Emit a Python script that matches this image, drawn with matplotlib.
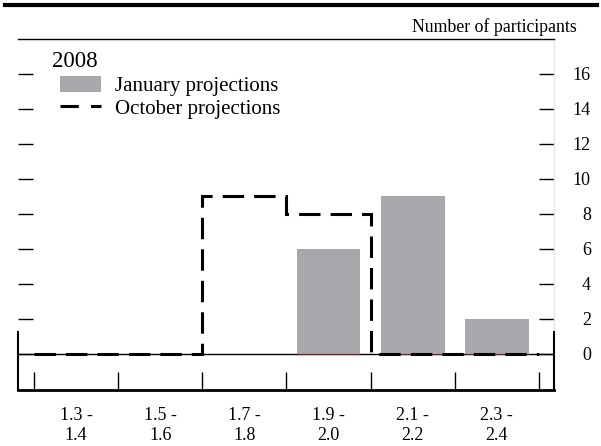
import matplotlib.pyplot as plt
import numpy as np
from matplotlib.lines import Line2D
from matplotlib.patches import Patch

plt.rcParams['font.family'] = ['Liberation Serif', 'DejaVu Serif']

# bins of the projection histogram
bin_labels = ['1.3 -\n1.4', '1.5 -\n1.6', '1.7 -\n1.8', '1.9 -\n2.0', '2.1 -\n2.2', '2.3 -\n2.4']
january = [0, 0, 0, 6, 9, 2]
october = [0, 0, 9, 8, 0, 0]
y_ticks = [0, 2, 4, 6, 8, 10, 12, 14, 16]

x = np.arange(len(bin_labels))
edges = np.arange(len(bin_labels) + 1) - 0.5

fig = plt.figure(figsize=(6.01, 4.46), dpi=100)
ax = fig.add_axes([18 / 601, 1 - 390 / 446, (554 - 18) / 601, (390 - 39) / 446])

bar_w = 0.76
ax.bar(x, january, width=bar_w, color='#a7a8ab', zorder=2)
# thin dark red baseline under the filled bars
for xi, v in zip(x, january):
    if v > 0:
        ax.hlines(0, xi - bar_w / 2, xi + bar_w / 2, color='#6e2020', lw=0.8, zorder=3)

ax.axhline(0, color='black', lw=1, zorder=1)
ax.stairs(october, edges, baseline=None, color='black', lw=2.2,
          linestyle=(0, (7, 3.3)), zorder=4)

ax.set_xlim(-0.69, 5.68)
ax.set_ylim(-2.06, 18.0)

# y ticks inward on both sides, labels only on the right
ax.set_yticks(y_ticks)
ax.tick_params(axis='y', which='major', direction='in', length=11, width=1,
               left=True, right=True, labelleft=False, labelright=True,
               labelsize=13, pad=26.5)
for lab in ax.get_yticklabels():
    lab.set_horizontalalignment('right')

# x: labels centered on bins, tick marks on bin edges
ax.set_xticks(x)
ax.set_xticklabels(bin_labels, fontsize=13, linespacing=1.25)
ax.tick_params(axis='x', which='major', length=0, pad=12)
ax.set_xticks(edges, minor=True)
ax.tick_params(axis='x', which='minor', direction='in', length=13, width=1)

for side in ['left', 'right']:
    ax.spines[side].set_bounds(-2.06, 1.26)
    ax.spines[side].set_linewidth(1.5)
ax.spines['bottom'].set_linewidth(2)
ax.spines['top'].set_linewidth(1)
ax.plot([1, 1], [(1.26 + 2.06) / 20.06, 1], transform=ax.transAxes,
        color='#e8e8e8', lw=1, clip_on=False)

ax.text(0.063, 0.936, '2008', transform=ax.transAxes, fontsize=16.5, va='center', ha='left')
handles = [Patch(facecolor='#a7a8ab', edgecolor='none'),
           Line2D([], [], color='black', lw=2.2, linestyle=(0, (6, 4)))]
ax.legend(handles, ['January projections', 'October projections'],
          loc='upper left', bbox_to_anchor=(0.078, 0.896), frameon=False,
          fontsize=15, handlelength=2.0, handleheight=0.87, handletextpad=0.63,
          labelspacing=0.1, borderpad=0, borderaxespad=0)

fig.add_artist(Line2D([5 / 601, 597 / 601], [1 - 5 / 446, 1 - 5 / 446],
                      color='black', lw=3))
fig.text(577 / 601, 1 - 27 / 446, 'Number of participants', fontsize=12.8,
         ha='right', va='center')

fig.savefig('out.png', dpi=100)
